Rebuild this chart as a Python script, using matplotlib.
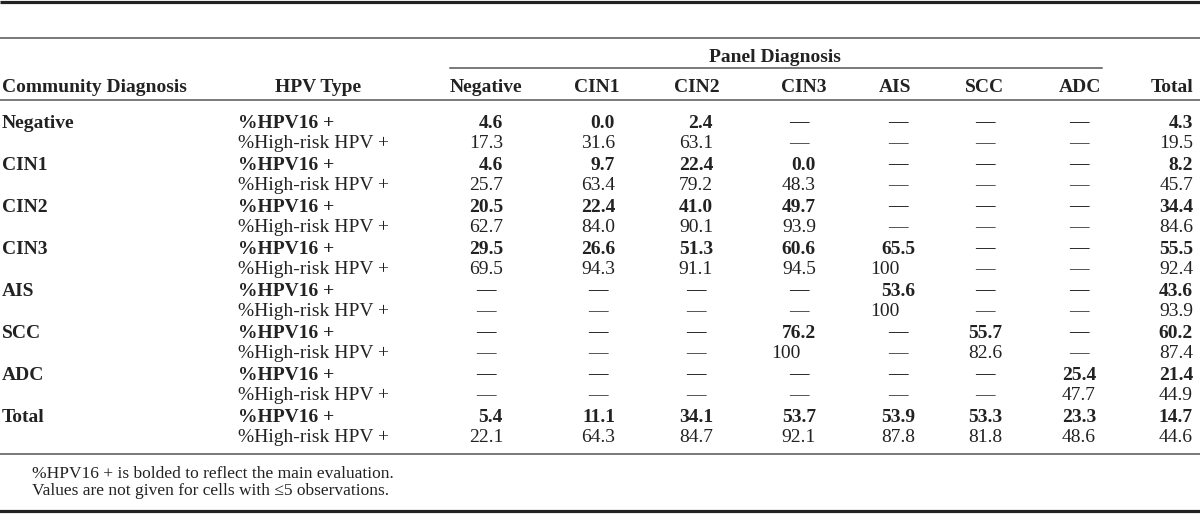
import numpy as np
import matplotlib.pyplot as plt

plt.rcParams['font.family'] = ['Liberation Serif', 'DejaVu Serif']

# --- table contents ---
panel_cols = ['Negative', 'CIN1', 'CIN2', 'CIN3', 'AIS', 'SCC', 'ADC', 'Total']
community = ['Negative', 'CIN1', 'CIN2', 'CIN3', 'AIS', 'SCC', 'ADC', 'Total']
hpv_types = ['%HPV16 +', '%High-risk HPV +']

na = np.nan
hpv16 = [
    [4.6, 0.0, 2.4, na, na, na, na, 4.3],
    [4.6, 9.7, 22.4, 0.0, na, na, na, 8.2],
    [20.5, 22.4, 41.0, 49.7, na, na, na, 34.4],
    [29.5, 26.6, 51.3, 60.6, 65.5, na, na, 55.5],
    [na, na, na, na, 53.6, na, na, 43.6],
    [na, na, na, 76.2, na, 55.7, na, 60.2],
    [na, na, na, na, na, na, 25.4, 21.4],
    [5.4, 11.1, 34.1, 53.7, 53.9, 53.3, 23.3, 14.7],
]
high_risk = [
    [17.3, 31.6, 63.1, na, na, na, na, 19.5],
    [25.7, 63.4, 79.2, 48.3, na, na, na, 45.7],
    [62.7, 84.0, 90.1, 93.9, na, na, na, 84.6],
    [69.5, 94.3, 91.1, 94.5, 100, na, na, 92.4],
    [na, na, na, na, 100, na, na, 93.9],
    [na, na, na, 100, na, 82.6, na, 87.4],
    [na, na, na, na, na, na, 47.7, 44.9],
    [22.1, 64.3, 84.7, 92.1, 87.8, 81.8, 48.6, 44.6],
]
footnotes = ['%HPV16 + is bolded to reflect the main evaluation.',
             'Values are not given for cells with \u22645 observations.']

# --- layout (pixel coords, y down) ---
W, H = 1200, 516
col_right = [503, 615, 713, 816, 915, 1002, 1096, 1193]
col_head = [486, 597, 697, 804, 895, 985, 1080]
row_y0, row_step = 121, 21
fs = 14
ink = '#222222'

fig = plt.figure(figsize=(W / 100, H / 100), dpi=100)
ax = fig.add_axes([0, 0, 1, 1])
ax.set_xlim(0, W)
ax.set_ylim(H, 0)
ax.axis('off')

# rules
ax.plot([0, W], [1.5, 1.5], color='#222222', lw=2.3, solid_capstyle='butt')
ax.plot([0, W], [38, 38], color='#555555', lw=1.1)
ax.plot([450, 1102], [68, 68], color='#555555', lw=1.1)
ax.plot([0, W], [100, 100], color='#555555', lw=1.1)
ax.plot([0, W], [454, 454], color='#555555', lw=1.1)
ax.plot([0, W], [511, 511], color='#222222', lw=2.3)

# headers
ax.text(775, 56, 'Panel Diagnosis', ha='center', va='center_baseline',
        fontsize=fs, fontweight='bold', color=ink)
ax.text(2, 86, 'Community Diagnosis', ha='left', va='center_baseline',
        fontsize=fs, fontweight='bold', color=ink)
ax.text(318, 86, 'HPV Type', ha='center', va='center_baseline',
        fontsize=fs, fontweight='bold', color=ink)
for name, x in zip(panel_cols[:-1], col_head):
    ax.text(x, 86, name, ha='center', va='center_baseline',
            fontsize=fs, fontweight='bold', color=ink)
ax.text(col_right[-1], 86, panel_cols[-1], ha='right', va='center_baseline',
        fontsize=fs, fontweight='bold', color=ink)


def put_value(x_right, y, v, weight):
    if np.isnan(v):
        ax.text(x_right - 17, y, '\u2014', ha='center', va='center_baseline',
                fontsize=fs, fontweight=weight, color=ink)
    elif v == 100:
        ax.text(x_right - 15, y, '100', ha='right', va='center_baseline',
                fontsize=fs, fontweight=weight, color=ink)
    else:
        ax.text(x_right, y, f'{v:.1f}', ha='right', va='center_baseline',
                fontsize=fs, fontweight=weight, color=ink)


# body
for i, comm in enumerate(community):
    y1 = row_y0 + row_step * (2 * i)
    y2 = y1 + row_step
    ax.text(2, y1, comm, ha='left', va='center_baseline',
            fontsize=fs, fontweight='bold', color=ink)
    ax.text(238, y1, hpv_types[0], ha='left', va='center_baseline',
            fontsize=fs, fontweight='bold', color=ink)
    ax.text(238, y2, hpv_types[1], ha='left', va='center_baseline',
            fontsize=fs, color=ink)
    for j, xr in enumerate(col_right):
        put_value(xr, y1, hpv16[i][j], 'bold')
        put_value(xr, y2, high_risk[i][j], 'normal')

# footnotes
ax.text(32, 472, footnotes[0], ha='left', va='center_baseline', fontsize=12.5, color=ink)
ax.text(32, 489, footnotes[1], ha='left', va='center_baseline', fontsize=12.5, color=ink)

fig.savefig('out.png', dpi=100)
